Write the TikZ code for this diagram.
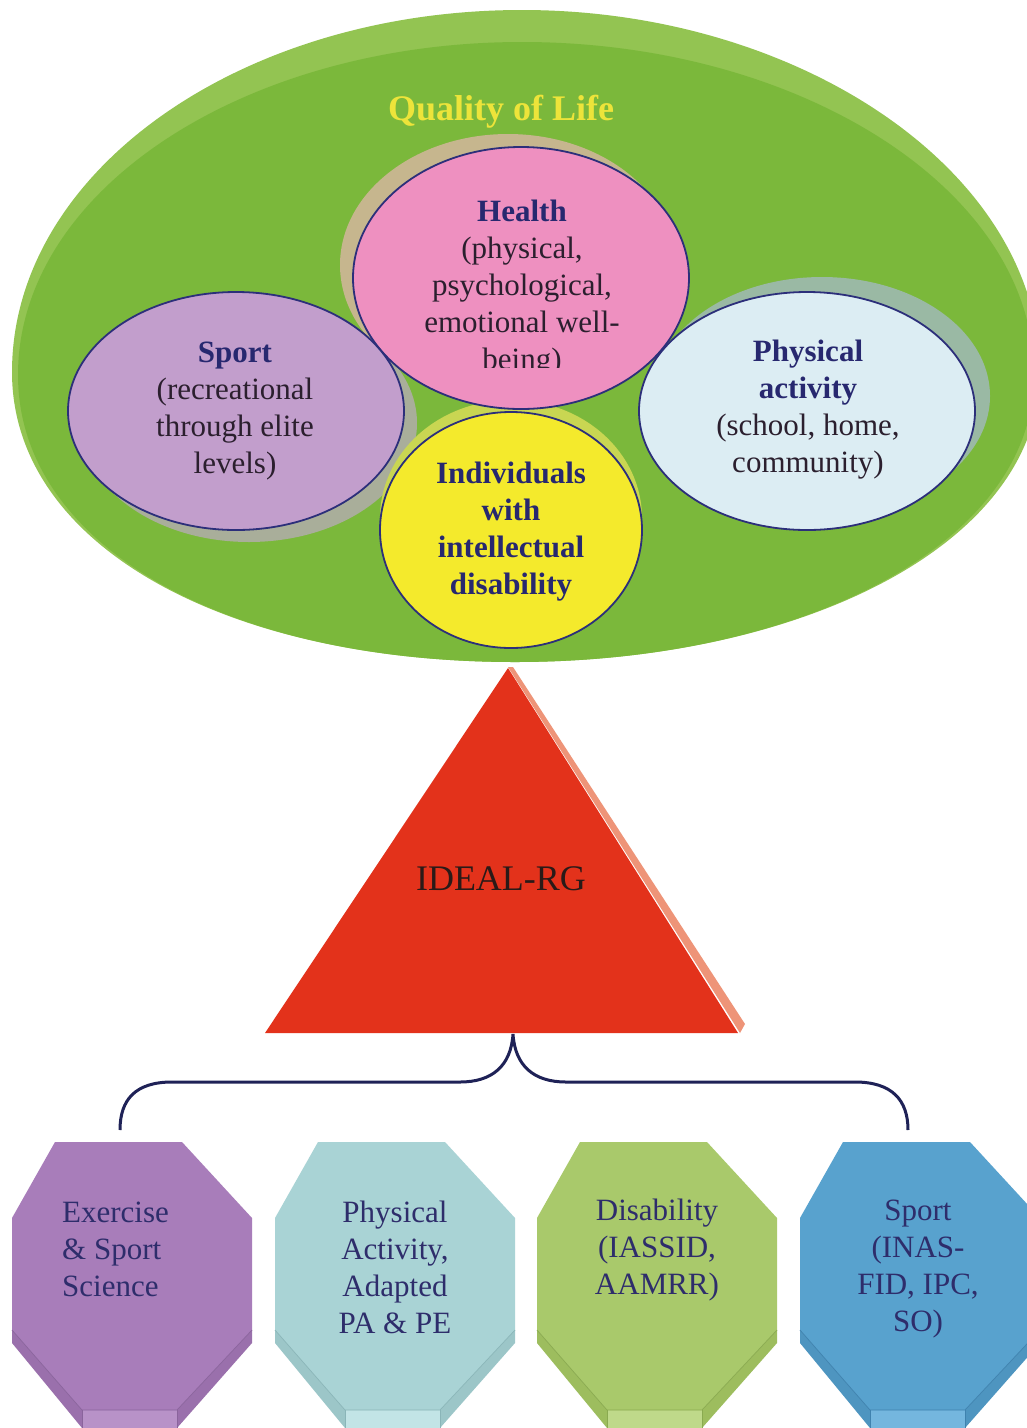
\documentclass[tikz,border=0pt]{standalone}
\usepackage{fontspec}
\setmainfont{Liberation Serif}
\usetikzlibrary{shapes.geometric}
\definecolor{bandgreen}{HTML}{93C452}
\definecolor{maingreen}{HTML}{7BB83B}
\definecolor{hpink}{HTML}{EE90C0}
\definecolor{hshadow}{HTML}{C6B68E}
\definecolor{spurple}{HTML}{C29ECC}
\definecolor{sshadow}{HTML}{A9AE9A}
\definecolor{pblue}{HTML}{DCEDF3}
\definecolor{pshadow}{HTML}{9AB9A4}
\definecolor{iyellow}{HTML}{F4EA2C}
\definecolor{ishadow}{HTML}{C9D652}
\definecolor{rim}{HTML}{2C2F7A}
\definecolor{hd}{HTML}{27286F}
\definecolor{bodytxt}{HTML}{2B1F2E}
\definecolor{qyellow}{HTML}{EDE43A}
\definecolor{trired}{HTML}{E3321B}
\definecolor{trisalmon}{HTML}{EE9478}
\definecolor{idealtxt}{HTML}{2A1A18}
\definecolor{bracecol}{HTML}{1F2257}
\definecolor{octtxt}{HTML}{2E2D6B}
\definecolor{oA}{HTML}{A87DBA}\definecolor{oAb}{HTML}{9A70AC}\definecolor{oAf}{HTML}{B892C8}\definecolor{oAl}{HTML}{8A649C}
\definecolor{oB}{HTML}{A9D3D5}\definecolor{oBb}{HTML}{9CC6C8}\definecolor{oBf}{HTML}{C2E4E6}\definecolor{oBl}{HTML}{8AB5B8}
\definecolor{oC}{HTML}{A9C96B}\definecolor{oCb}{HTML}{9DBD5E}\definecolor{oCf}{HTML}{BFD98A}\definecolor{oCl}{HTML}{8AAA50}
\definecolor{oD}{HTML}{58A2CE}\definecolor{oDb}{HTML}{4E95C0}\definecolor{oDf}{HTML}{74B6DE}\definecolor{oDl}{HTML}{3F82AE}
\newcommand\sst{\rule[-3.4pt]{0pt}{27.4pt}}
\newcommand\octbody[5]{%
  \begin{scope}[xshift=#1pt]
    \fill[#3] (0,1330) -- (0,1343) -- (70,1428) -- (165,1428) -- (240,1343) -- (240,1330) -- (165,1410) -- (70,1410) -- cycle;
    \fill[#4] (70,1410) rectangle (165,1428);
    \fill[#2] (43,1142) -- (170,1142) -- (240,1218) -- (240,1330) -- (165,1410) -- (70,1410) -- (0,1330) -- (0,1218) -- cycle;
    \draw[#5, line width=0.7pt] (0,1330) -- (70,1410) -- (165,1410) -- (240,1330);
    \draw[#5, line width=0.7pt] (70,1410) -- (70,1428) (165,1410) -- (165,1428);
  \end{scope}}
\begin{document}
\begin{tikzpicture}[x=1pt,y=-1pt,
  bubble/.style={ellipse, draw=rim, line width=1.8pt, inner sep=0pt},
  lbl/.style={inner sep=0pt, align=center, font=\fontsize{31}{37}\selectfont, text=bodytxt},
  octlbl/.style={inner sep=0pt, align=center, font=\fontsize{31}{37}\selectfont, text=octtxt},
  brace/.style={draw=bracecol, line width=3pt}]
\useasboundingbox (0,0) rectangle (1027,1428);
\clip (0,0) rectangle (1027,1428);
\fill[white] (0,0) rectangle (1027,1428);
% big disc
\fill[bandgreen] (12,372) .. controls (12,172) and (240,10) .. (522,10) .. controls (800,10) and (1040,172) .. (1040,372) .. controls (1040,545) and (800,662) .. (515,662) .. controls (225,662) and (12,545) .. (12,372) -- cycle;
\fill[maingreen] (18,375) .. controls (18,190) and (245,42) .. (522,42) .. controls (800,42) and (1034,190) .. (1034,375) .. controls (1034,545) and (800,662) .. (515,662) .. controls (225,662) and (18,545) .. (18,375) -- cycle;
\node[anchor=base, inner sep=0pt, font=\fontsize{36}{40}\selectfont\bfseries, text=qyellow] (qol) at (501,120) {Quality of Life};
% shadows
\fill[hshadow] (508,265) ellipse [x radius=168pt, y radius=131pt];
\fill[sshadow] (249,423) ellipse [x radius=168pt, y radius=119pt];
\fill[pshadow] (822,396) ellipse [x radius=168pt, y radius=119pt];
\fill[ishadow] (511,518) ellipse [x radius=131pt, y radius=118pt];
% ellipses
\node[bubble, fill=hpink, minimum width=336pt, minimum height=262pt] (health) at (521,278) {};
\node[bubble, fill=spurple, minimum width=336pt, minimum height=238pt] (sport) at (236,411) {};
\node[bubble, fill=pblue, minimum width=336pt, minimum height=238pt] (physical) at (807,411) {};
\node[bubble, fill=iyellow, minimum width=262pt, minimum height=236pt] (indiv) at (511,530) {};
% ellipse texts
\begin{scope}
  \clip (330,140) rectangle (720,367);
  \node[lbl] (healthtxt) at (522,287) {\sst\textcolor{hd}{\textbf{Health}}\\\sst(physical,\\\sst psychological,\\\sst emotional well-\\\sst being)};
\end{scope}
\node[lbl] (sporttxt) at (235,409) {\sst\textcolor{hd}{\textbf{Sport}}\\\sst(recreational\\\sst through elite\\\sst levels)};
\node[lbl] (phystxt) at (808,408) {\sst\textcolor{hd}{\textbf{Physical}}\\\sst\textcolor{hd}{\textbf{activity}}\\\sst(school, home,\\\sst community)};
\node[lbl, text=hd, font=\fontsize{31}{37}\selectfont\bfseries] (indivtxt) at (511,530) {\sst Individuals\\\sst with\\\sst intellectual\\\sst disability};
% triangle
\coordinate (apex) at (508,668);
\coordinate (tl) at (265,1033);
\coordinate (tr) at (738,1033);
\fill[trisalmon] (508,667) -- (513,667) -- (745,1024) -- (740,1033) -- cycle;
\fill[trired] (apex) -- (tr) -- (tl) -- cycle;
\node[anchor=base, inner sep=0pt, font=\fontsize{36}{40}\selectfont, text=idealtxt] (ideal) at (501,890) {IDEAL-RG};
% bracket
\coordinate (peak) at (513,1034);
\coordinate (bl) at (120,1130);
\coordinate (br) at (908,1130);
\draw[brace] (bl) .. controls (120,1100) and (135,1082) .. (172,1082) -- (460,1082) .. controls (492,1082) and (511,1066) .. (peak) .. controls (515,1066) and (534,1082) .. (566,1082) -- (855,1082) .. controls (892,1082) and (908,1100) .. (br);
% octagons
\octbody{12}{oA}{oAb}{oAf}{oAl}
\octbody{275}{oB}{oBb}{oBf}{oBl}
\octbody{537}{oC}{oCb}{oCf}{oCl}
\octbody{800}{oD}{oDb}{oDf}{oDl}
\node[octlbl, align=left, anchor=west] (oct1) at (62,1249) {\sst Exercise\\\sst\& Sport\\\sst Science};
\node[octlbl] (oct2) at (395,1267.5) {\sst Physical\\\sst Activity,\\\sst Adapted\\\sst PA \& PE};
\node[octlbl] (oct3) at (657,1249) {\sst Disability\\\sst (IASSID,\\\sst AAMRR)};
\node[octlbl] (oct4) at (918,1267.5) {\sst Sport\\\sst (INAS-\\\sst FID, IPC,\\\sst SO)};
\end{tikzpicture}
\end{document}
